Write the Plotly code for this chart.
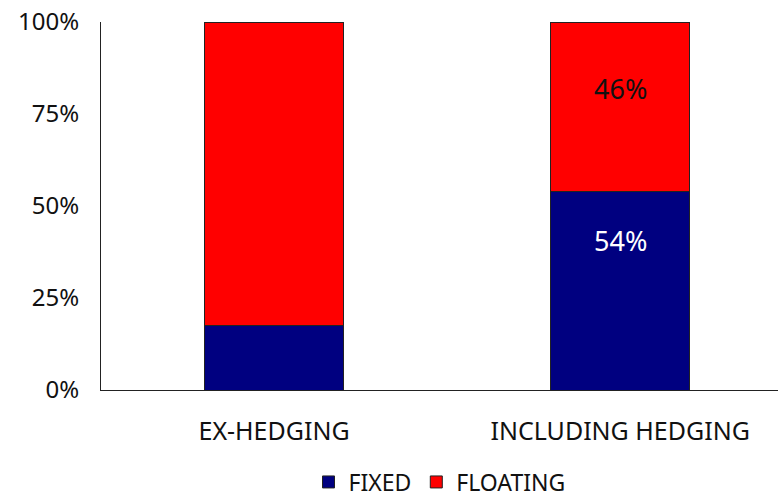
import plotly.graph_objects as go

categories = ["EX-HEDGING", "INCLUDING HEDGING"]
fixed = [17.5, 54]
floating = [82.5, 46]
label_fixed = [None, "54%"]
label_floating = [None, "46%"]
tick_vals = [0, 25, 50, 75, 100]
tick_text = ["0%", "25%", "50%", "75%", "100%"]

FONT = "Noto Sans"
xpos = list(range(len(categories)))

fig = go.Figure()
fig.add_trace(go.Bar(x=xpos, y=fixed, name="FIXED", width=0.40,
                     marker=dict(color="#000080", line=dict(color="#222222", width=1))))
fig.add_trace(go.Bar(x=xpos, y=floating, name="FLOATING", width=0.40,
                     marker=dict(color="#FF0000", line=dict(color="#222222", width=1))))

for i in xpos:
    if label_fixed[i]:
        fig.add_annotation(x=i, y=fixed[i] * 0.75, text=label_fixed[i], showarrow=False,
                           font=dict(family=FONT, size=27, color="white"))
    if label_floating[i]:
        fig.add_annotation(x=i, y=fixed[i] + floating[i] * 0.61, text=label_floating[i],
                           showarrow=False, font=dict(family=FONT, size=27, color="#111111"))

fig.update_layout(
    barmode="stack",
    width=778, height=499,
    margin=dict(l=101, r=0, t=22, b=109, autoexpand=False),
    paper_bgcolor="white", plot_bgcolor="white",
    font=dict(family=FONT, size=24, color="#111111"),
    showlegend=True,
    legend=dict(orientation="h", x=0.5, xanchor="center", y=-0.25, yanchor="middle",
                font=dict(family=FONT, size=23, color="#111111"), itemwidth=30,
                traceorder="normal"),
    xaxis=dict(range=[-0.5, 1.456], tickvals=xpos, ticktext=categories,
               showline=True, linecolor="#222222", linewidth=1, showgrid=False,
               zeroline=False, ticks="", ticklabelstandoff=19,
               tickfont=dict(family=FONT, size=25, color="#111111")),
    yaxis=dict(range=[0, 100], tickvals=tick_vals, ticktext=tick_text,
               showline=True, linecolor="#222222", linewidth=1, showgrid=False,
               zeroline=False, ticks="", ticklabelstandoff=16,
               tickfont=dict(family=FONT, size=24, color="#111111")),
)

fig.write_html("out.html")
